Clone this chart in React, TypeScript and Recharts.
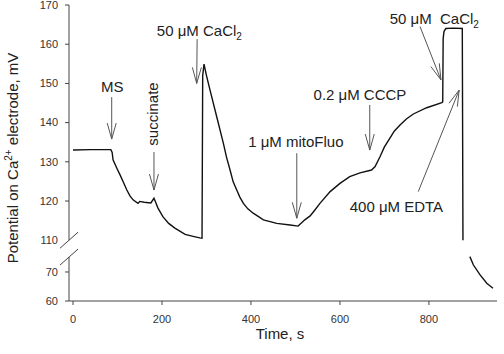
import React from 'react';
import { LineChart, Line, XAxis, YAxis, ReferenceLine, ReferenceDot } from 'recharts';

// trace (time in s, potential in mV); null = axis break gap
const timeS = [
  0, 40, 85, 88, 90, 98, 106, 114, 121, 128, 135, 146, 150, 160, 175, 182, 186, 191, 202, 215, 229,
  252, 270, 285, 290, 291.5, 294.5, 300, 308, 323, 338, 345, 353, 360, 368, 375, 383, 393, 405, 428,
  458, 488, 506, 521, 533, 545, 555, 578, 600, 622, 645, 671, 679, 690, 700, 712, 722, 735, 750, 765,
  795, 829, 831, 832, 834, 838, 855, 875, 876.5, 884, 892, 900, 915, 930, 944,
];
const potentialMv: (number | null)[] = [
  133.0, 133.1, 133.1, 132.4, 130.5, 128.5, 126.6, 124.6, 122.8, 121.3, 120.3, 119.4, 119.9, 119.7,
  119.5, 120.7, 119.6, 118.2, 116.0, 114.3, 113.1, 111.5, 111.0, 110.6, 110.5, 152.0, 154.9, 152.0,
  148.3, 141.5, 134.7, 131.2, 127.9, 124.9, 122.8, 121.0, 119.4, 118.0, 116.9, 115.2, 114.3, 113.9,
  113.6, 115.2, 116.2, 117.9, 119.4, 122.4, 124.5, 126.2, 127.2, 127.9, 128.8, 131.3, 133.8, 136.0,
  137.8, 139.4, 141.0, 142.2, 143.8, 145.1, 145.3, 161.5, 163.3, 164.0, 164.1, 164.0, 110.0, null,
  75.3, 72.4, 69.0, 66.1, 64.4,
];

const xTicks = [0, 200, 400, 600, 800];
const yTickLabels = [60, 70, 110, 120, 130, 140, 150, 160, 170];

// annotations
const noteText = ['MS', 'succinate', '50 μM CaCl|2', '1 μM mitoFluo', '0.2 μM CCCP', '50 μM  CaCl|2', '400 μM EDTA'];
const noteTime = [88, 180, 284, 501, 645, 812, 727];
const noteMv = [149.1, 142.2, 163.5, 135.1, 147.0, 166.4, 118.5];
const arrowFromTime = [87, 182, 279, 503, 667, 780, 776];
const arrowFromMv = [146.5, 132.5, 161.3, 132.2, 144.5, 164.5, 122.4];
const arrowToTime = [87, 182, 278, 503, 667, 827, 868];
const arrowToMv = [135.8, 122.8, 150.0, 115.6, 133.0, 150.9, 148.3];

// broken y axis: 60-70 squeezed at the bottom, 110-170 above
const LOW_SCALE = 0.74;
const HIGH_BASE = 15.5;
const BREAK_LO = 11.2;
const toAxis = (v: number) => (v >= 100 ? v - 110 + HIGH_BASE : (v - 60) * LOW_SCALE);
const Y_TOP = toAxis(170);
const X_DOMAIN: [number, number] = [-9, 953];

const FONT = '"Liberation Sans", Arial, Helvetica, sans-serif';
const INK = '#222';
const AXIS = '#444';

const data = timeS.map((t, i) => {
  const v = potentialMv[i];
  return { t, y: v == null ? null : toAxis(v) };
});

function Arrow(props: any) {
  const { x1, y1, x2, y2 } = props;
  const a = Math.atan2(y2 - y1, x2 - x1);
  const len = 16;
  const half = 4.5;
  const bx = x2 - len * Math.cos(a);
  const by = y2 - len * Math.sin(a);
  const px = -Math.sin(a) * half;
  const py = Math.cos(a) * half;
  return (
    <g stroke="#555" strokeWidth={1} fill="none">
      <line x1={x1} y1={y1} x2={x2} y2={y2} />
      <polyline points={`${bx + px},${by + py} ${x2},${y2} ${bx - px},${by - py}`} />
    </g>
  );
}

function NoteLabel({ cx, cy, text }: any) {
  const [main, sub] = text.split('|');
  const rotate = text === 'succinate';
  return (
    <text
      x={cx}
      y={cy}
      dy="0.35em"
      textAnchor="middle"
      fontFamily={FONT}
      fontSize={15}
      fill={INK}
      style={{ whiteSpace: 'pre' }}
      transform={rotate ? `rotate(-90 ${cx} ${cy})` : undefined}
    >
      {main}
      {sub && (
        <tspan fontSize={10} dy={4}>
          {sub}
        </tspan>
      )}
    </text>
  );
}

function AxisPiece(props: any) {
  const { x1, y1, x2, y2, slashAt } = props;
  const sy = slashAt === 'top' ? Math.min(y1, y2) : Math.max(y1, y2);
  return (
    <g stroke={AXIS} strokeWidth={1} fill="none">
      <line x1={x1} y1={y1} x2={x2} y2={y2} />
      <line x1={x1 - 9} y1={sy + 8} x2={x1 + 9} y2={sy - 8} />
    </g>
  );
}

function YTick(props: any) {
  const { x, y, payload } = props;
  const label = yTickLabels.find((v) => Math.abs(toAxis(v) - payload.value) < 0.01);
  return (
    <g>
      {label !== 110 && <line x1={x + 7} y1={y} x2={x + 11} y2={y} stroke={AXIS} />}
      <text x={x} y={y} dy="0.35em" textAnchor="end" fontFamily={FONT} fontSize={11} fill="#333">
        {label}
      </text>
    </g>
  );
}

function YLabel({ viewBox }: any) {
  const cx = 18;
  const cy = viewBox.y + viewBox.height / 2 + 5;
  return (
    <text
      x={cx}
      y={cy}
      textAnchor="middle"
      fontFamily={FONT}
      fontSize={15}
      fill={INK}
      transform={`rotate(-90 ${cx} ${cy})`}
    >
      Potential on Ca
      <tspan fontSize={10} dy={-6}>2+</tspan>
      <tspan dy={6}> electrode, mV</tspan>
    </text>
  );
}

function XLabel({ viewBox }: any) {
  return (
    <text
      x={viewBox.x + viewBox.width / 2 - 3}
      y={339}
      textAnchor="middle"
      fontFamily={FONT}
      fontSize={15}
      fill={INK}
    >
      Time, s
    </text>
  );
}

export default function App() {
  return (
    <div style={{ position: 'absolute', left: 0, top: 0, background: '#fff' }}>
      <LineChart width={504} height={354} data={data} margin={{ top: 5, right: 7, bottom: 0, left: 0 }}>
        <XAxis
          dataKey="t"
          type="number"
          domain={X_DOMAIN}
          ticks={xTicks}
          height={53}
          tickSize={4}
          tickMargin={10}
          axisLine={{ stroke: AXIS }}
          tickLine={{ stroke: AXIS }}
          tick={{ fontFamily: FONT, fontSize: 11, fill: '#333' }}
          label={{ content: XLabel }}
        />
        <YAxis
          type="number"
          domain={[0, Y_TOP]}
          ticks={yTickLabels.map(toAxis)}
          width={69}
          tickSize={4}
          tickMargin={7}
          axisLine={false}
          tickLine={false}
          tick={YTick}
          interval={0}
          label={{ content: YLabel }}
        />
        <ReferenceLine
          segment={[{ x: X_DOMAIN[0], y: 0 }, { x: X_DOMAIN[0], y: BREAK_LO }]}
          ifOverflow="visible"
          shape={(p: any) => <AxisPiece {...p} slashAt="top" />}
        />
        <ReferenceLine
          segment={[{ x: X_DOMAIN[0], y: HIGH_BASE }, { x: X_DOMAIN[0], y: Y_TOP }]}
          ifOverflow="visible"
          shape={(p: any) => <AxisPiece {...p} slashAt="bottom" />}
        />
        <Line
          dataKey="y"
          type="linear"
          stroke="#111"
          strokeWidth={1.4}
          dot={false}
          connectNulls={false}
          isAnimationActive={false}
        />
        {noteText.map((_, i) => (
          <ReferenceLine
            key={`a${i}`}
            segment={[
              { x: arrowFromTime[i], y: toAxis(arrowFromMv[i]) },
              { x: arrowToTime[i], y: toAxis(arrowToMv[i]) },
            ]}
            ifOverflow="visible"
            shape={Arrow}
          />
        ))}
        {noteText.map((txt, i) => (
          <ReferenceDot
            key={`n${i}`}
            x={noteTime[i]}
            y={toAxis(noteMv[i])}
            r={0}
            ifOverflow="visible"
            shape={(p: any) => <NoteLabel cx={p.cx} cy={p.cy} text={txt} />}
          />
        ))}
      </LineChart>
    </div>
  );
}
